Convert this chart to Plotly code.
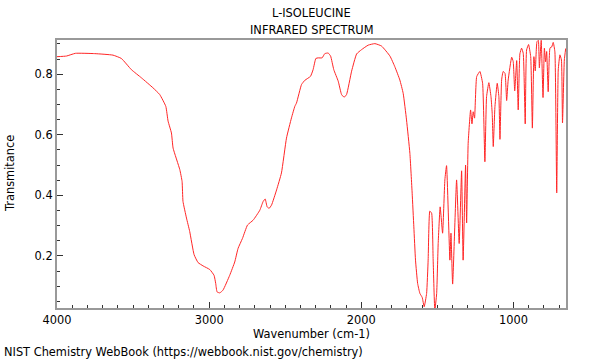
import plotly.graph_objects as go

wavenumber = [4000, 3938, 3879, 3752, 3632, 3577, 3511, 3445, 3369, 3325, 3285, 3270, 3248, 3237,
              3193, 3178, 3172, 3149, 3128, 3099, 3073, 3040, 2996, 2968, 2957, 2948, 2930, 2909,
              2865, 2832, 2810, 2781, 2748, 2711, 2667, 2646, 2632, 2619, 2606, 2590, 2557, 2525,
              2492, 2459, 2437, 2426, 2393, 2371, 2334, 2317, 2299, 2284, 2258, 2240, 2218, 2202,
              2181, 2152, 2130, 2113, 2097, 2064, 2031, 1999, 1955, 1911, 1867, 1812, 1780, 1747,
              1725, 1703, 1681, 1666, 1655, 1644, 1630, 1615, 1600, 1587, 1571, 1561, 1550, 1538,
              1528, 1517, 1505, 1495, 1482, 1466, 1451, 1440, 1418, 1411, 1400, 1374, 1357, 1341,
              1331, 1315, 1308, 1298, 1282, 1273, 1265, 1256, 1242, 1221, 1203, 1188, 1177, 1162,
              1148, 1140, 1133, 1122, 1107, 1096, 1089, 1078, 1068, 1056, 1045, 1035, 1012, 1002,
              992, 979, 969, 958, 947, 936, 923, 914, 901, 887, 876, 866, 857, 846, 837, 830, 818,
              806, 797, 789, 782, 772, 760, 749, 739, 728, 716, 706, 695, 685, 678, 666, 657]
transmittance = [0.858, 0.860, 0.869, 0.868, 0.863, 0.852, 0.815, 0.788, 0.755, 0.733, 0.694, 0.645,
                 0.606, 0.556, 0.485, 0.446, 0.380, 0.325, 0.281, 0.204, 0.178, 0.167, 0.155, 0.136,
                 0.109, 0.081, 0.078, 0.087, 0.136, 0.180, 0.225, 0.258, 0.302, 0.318, 0.351, 0.379,
                 0.388, 0.362, 0.357, 0.368, 0.418, 0.474, 0.589, 0.656, 0.694, 0.705, 0.766, 0.780,
                 0.793, 0.815, 0.852, 0.854, 0.854, 0.868, 0.870, 0.860, 0.815, 0.777, 0.733, 0.724,
                 0.733, 0.810, 0.867, 0.881, 0.896, 0.901, 0.893, 0.860, 0.825, 0.781, 0.737, 0.649,
                 0.539, 0.407, 0.296, 0.186, 0.109, 0.076, 0.063, 0.032, 0.076, 0.186, 0.348, 0.341,
                 0.186, 0.020, 0.076, 0.241, 0.362, 0.275, 0.451, 0.498, 0.186, 0.275, 0.107, 0.451,
                 0.241, 0.481, 0.186, 0.500, 0.309, 0.572, 0.682, 0.636, 0.676, 0.655, 0.792, 0.809,
                 0.770, 0.511, 0.726, 0.772, 0.726, 0.671, 0.561, 0.693, 0.770, 0.726, 0.585, 0.781,
                 0.809, 0.803, 0.713, 0.781, 0.856, 0.842, 0.745, 0.845, 0.682, 0.867, 0.886, 0.869,
                 0.636, 0.880, 0.898, 0.858, 0.622, 0.858, 0.811, 0.907, 0.912, 0.821, 0.912, 0.723,
                 0.886, 0.841, 0.875, 0.742, 0.887, 0.890, 0.905, 0.874, 0.408, 0.814, 0.864, 0.847,
                 0.639, 0.847, 0.885]

x_ticks = [4000, 3000, 2000, 1000]
y_ticks = [0.2, 0.4, 0.6, 0.8]

FONT = "DejaVu Sans"
FS = 11.4

fig = go.Figure()
fig.add_trace(go.Scatter(x=wavenumber, y=transmittance, mode="lines",
                         line=dict(color="#ff2626", width=1, shape="spline", smoothing=0.4),
                         hoverinfo="skip", showlegend=False))

fig.update_layout(
    width=600, height=360,
    margin=dict(l=57, r=34, t=40, b=52, autoexpand=False),
    paper_bgcolor="white", plot_bgcolor="white",
    font=dict(family=FONT, size=FS, color="black"),
    xaxis=dict(range=[4000, 655], tickvals=x_ticks, ticktext=[str(v) for v in x_ticks],
               ticks="inside", ticklen=6, tickcolor="#333", showgrid=False, zeroline=False,
               showline=True, linecolor="#999", linewidth=2, mirror=True, tickfont=dict(size=FS),
               minor=dict(dtick=100, tick0=0, ticks="inside", ticklen=3, tickcolor="#333", showgrid=False),
               title=dict(text="Wavenumber (cm-1)", font=dict(size=FS), standoff=2)),
    yaxis=dict(range=[0.028, 0.913], tickvals=y_ticks, ticktext=["0.2", "0.4", "0.6", "0.8"],
               ticks="inside", ticklen=6, tickcolor="#333", showgrid=False, zeroline=False,
               showline=True, linecolor="#999", linewidth=2, mirror=True, tickfont=dict(size=FS),
               minor=dict(dtick=0.05, tick0=0, ticks="inside", ticklen=3, tickcolor="#333", showgrid=False)),
)
fig.add_annotation(text="Transmitance", xref="paper", yref="paper", x=-47 / 509, y=0.5,
                   textangle=-90, showarrow=False, xanchor="center", yanchor="middle",
                   font=dict(size=FS))
fig.add_annotation(text="L-ISOLEUCINE", xref="paper", yref="paper", x=0.5, y=1 + 27 / 268,
                   showarrow=False, xanchor="center", yanchor="middle", font=dict(size=FS))
fig.add_annotation(text="INFRARED SPECTRUM", xref="paper", yref="paper", x=0.5, y=1 + 10 / 268,
                   showarrow=False, xanchor="center", yanchor="middle", font=dict(size=FS))
fig.add_annotation(text="NIST Chemistry WebBook (https://webbook.nist.gov/chemistry)",
                   xref="paper", yref="paper", x=-55 / 509, y=-44 / 268,
                   showarrow=False, xanchor="left", yanchor="middle", font=dict(size=FS))

fig.write_html("out.html", config={"displayModeBar": False},
               post_script="document.body.style.margin='0';")
